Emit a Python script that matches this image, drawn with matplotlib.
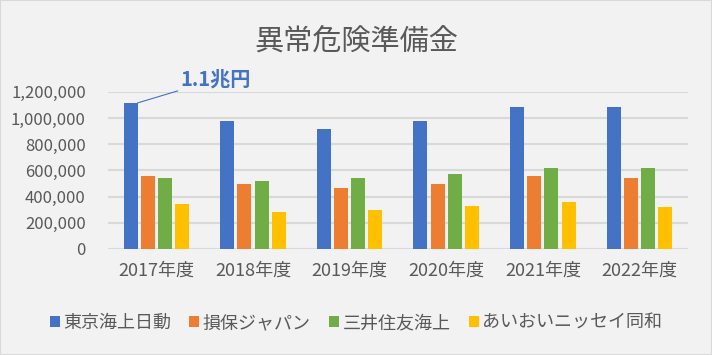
import matplotlib.pyplot as plt
import matplotlib.ticker as mticker
import numpy as np
from matplotlib.patches import Rectangle

plt.rcParams['font.family'] = ['Noto Sans CJK JP', 'DejaVu Sans']

# ── Data ──────────────────────────────────────────────
years = ['2017年度', '2018年度', '2019年度', '2020年度', '2021年度', '2022年度']
companies = ['東京海上日動', '損保ジャパン', '三井住友海上', 'あいおいニッセイ同和']
tokio = [1116000, 978000, 917000, 978000, 1086000, 1086000]
sompo = [557000, 496000, 465000, 496000, 557000, 542000]
mitsui = [542000, 519000, 542000, 572000, 618000, 618000]
aioi = [342000, 281000, 297000, 327000, 358000, 320000]
colors = ['#4472C4', '#ED7D31', '#70AD47', '#FFC000']

series = [tokio, sompo, mitsui, aioi]

fig = plt.figure(figsize=(7.12, 3.55), dpi=100)
fig.patch.set_facecolor('#F2F2F2')
fig.patches.append(Rectangle((0, 0), 1, 1, transform=fig.transFigure,
                             fill=False, edgecolor='#D9D9D9', lw=1.5))

ax = fig.add_axes([0.1517, 0.2986, 0.8143, 0.4424])
ax.set_facecolor('#F2F2F2')

x = np.arange(len(years))
width = 0.145
step = 0.178
for i, (vals, col, name) in enumerate(zip(series, colors, companies)):
    ax.bar(x + (i - 1.5) * step, vals, width, color=col, label=name, zorder=3)

ax.set_xlim(-0.5, len(years) - 0.5)
ax.set_ylim(0, 1200000)
ax.yaxis.set_major_locator(mticker.MultipleLocator(200000))
ax.yaxis.set_major_formatter(mticker.FuncFormatter(lambda v, p: f'{int(v):,}'))
ax.grid(axis='y', color='#D9D9D9', lw=1.5, zorder=0)
for s in ax.spines.values():
    s.set_visible(False)
ax.tick_params(length=0, colors='#595959', labelsize=12)
ax.tick_params(axis='x', labelsize=13, pad=9)
ax.tick_params(axis='y', pad=16)
ax.set_xticks(x)
ax.set_xticklabels(years)

# annotation on the first bar
ax.annotate('1.1兆円', xy=(x[0] - 1.5 * step + width / 2, tokio[0]),
            xytext=(x[0] + 0.25, 1295000), color='#4472C4',
            fontsize=14.5, fontweight='bold', va='center', ha='left',
            arrowprops=dict(arrowstyle='-', color='#4472C4', lw=0.8,
                            shrinkA=0, shrinkB=0),
            annotation_clip=False)

fig.text(0.5, 0.88, '異常危険準備金', ha='center', va='center',
         fontsize=21, color='#595959')

fig.legend(loc='center', bbox_to_anchor=(0.5, 0.09), ncol=4, frameon=False,
           fontsize=13, labelcolor='#595959', handlelength=0.55,
           handleheight=0.55, handletextpad=0.2, columnspacing=1.0)

fig.savefig('out.png', dpi=100, facecolor=fig.get_facecolor())
